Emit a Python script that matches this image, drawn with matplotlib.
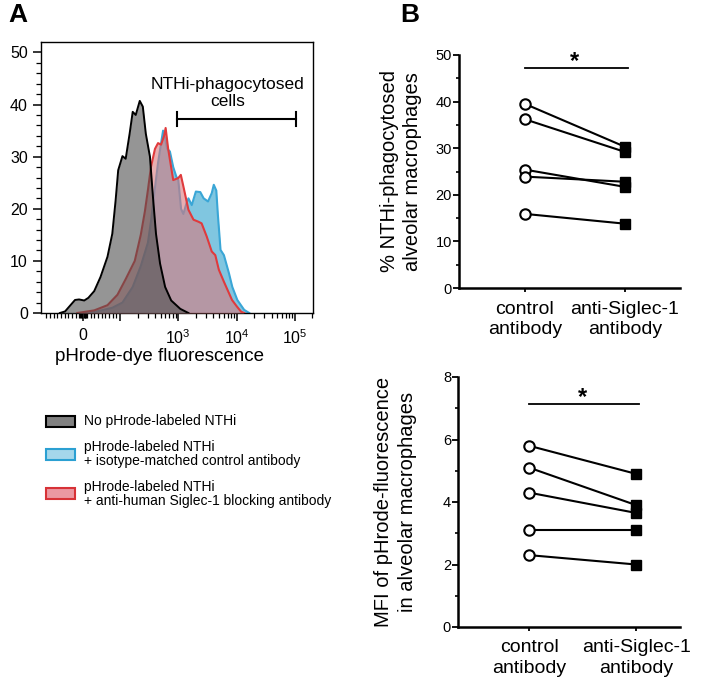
import numpy as np
import matplotlib
matplotlib.use('Agg')
import matplotlib.pyplot as plt
from matplotlib.patches import Rectangle

plt.rcParams['font.family'] = ['Liberation Sans', 'DejaVu Sans']
plt.rcParams['mathtext.fontset'] = 'custom'
plt.rcParams['mathtext.rm'] = 'Liberation Sans'

# --- panel A: flow histograms (fluorescence value, % of max) ---
gray_x = [-63, -49, -38, -22, -11, 3, 14, 30, 47, 66, 79, 88, 95, 110, 125, 146, 165, 186,
          218, 246, 277, 326, 367, 414, 486, 594, 755, 1080, 1490]
gray_y = [0, 0.3, 1.2, 2.5, 2.6, 2.4, 2.9, 4.2, 6.9, 10.8, 15.2, 21.6, 27.4, 30.1, 29.6, 34.4,
          38.6, 38.0, 40.7, 39.6, 34.4, 30.0, 22.3, 15.2, 9.5, 5.0, 2.4, 0.8, 0]

blue_x = [3, 38, 79, 110, 165, 227, 301, 339, 393, 449, 513, 548, 594, 644, 717, 818, 923,
          1000, 1114, 1222, 1377, 1493, 1703, 2000, 2384, 2722, 3236, 3750, 4064, 4490, 4766,
          5310, 6063, 7413, 8450, 10300, 13500, 16500]
blue_y = [0, 0.3, 1, 2, 5, 9, 13.5, 17.5, 23.6, 28.8, 33, 35, 33.5, 31.5, 31, 28, 26.2,
          25.5, 20, 19, 21, 22, 20.7, 23.3, 23.2, 22, 21.4, 23, 24.6, 23.5, 19,
          12.1, 11.1, 7.6, 5, 2.5, 0.6, 0]

red_x = [-16, 30, 66, 93, 125, 179, 227, 267, 301, 339, 398, 449, 506, 571, 606, 670, 818,
         1000, 1105, 1222, 1493, 1823, 2228, 2512, 3069, 3750, 4315, 4963, 6063, 7413, 8350,
         10200, 11970, 13500]
red_y = [0, 0.5, 1.5, 3.5, 6.5, 10, 15, 19.5, 23.6, 28, 31.5, 32.6, 32.3, 34, 35.5, 31.5, 25.5,
         25.9, 26.5, 24.3, 19.8, 17.9, 17.5, 17.2, 14.7, 11.8, 11.1, 8.3, 6.0, 3.8, 2.5,
         1.2, 0.25, 0]

gate = [960, 105000]
gate_y = 37.2

# --- panel B: paired values ---
groups = ['control\nantibody', 'anti-Siglec-1\nantibody']
pct_control = [39.5, 36.2, 25.4, 23.9, 15.9]
pct_anti = [30.3, 29.2, 21.7, 22.8, 13.8]
mfi_control = [5.8, 5.1, 4.3, 3.1, 2.3]
mfi_anti = [4.9, 3.9, 3.65, 3.1, 2.0]

fig = plt.figure(figsize=(7.09, 6.84), dpi=100)

# ---------------- A ----------------
ax = fig.add_axes([41/709, 1-313/684, 272/709, 271/684])
ax.set_xscale('symlog', linthresh=100, linscale=0.57)

ax.fill_between(blue_x, blue_y, color='#80c6e0', lw=0, zorder=1)
ax.plot(blue_x, blue_y, color='#3aa6d6', lw=1.5, zorder=2)
ax.fill_between(red_x, red_y, color=(217/255, 120/255, 125/255), alpha=0.6, lw=0, zorder=3)
ax.plot(red_x, red_y, color='#e03a3c', lw=1.5, zorder=4)
ax.fill_between(gray_x, gray_y, color=(78/255, 78/255, 78/255), alpha=0.6, lw=0, zorder=5)
ax.plot(gray_x, gray_y, color='black', lw=1.4, zorder=6)

ax.set_xlim(-123, 2.05e5)
ax.set_ylim(0, 52)
ax.set_xticks([0, 100, 1e3, 1e4, 1e5])
ax.set_xticklabels(['0', '', r'$10^{\mathregular{3}}$', r'$10^{\mathregular{4}}$',
                    r'$10^{\mathregular{5}}$'])
minor = [-100, -90, -80, -70, -60, -50, -40, -30, -20, -10, -8, -6, -4, -2,
         2, 4, 6, 8, 10, 20, 30, 40, 50, 60, 70, 80, 90]
for k in [2, 3, 4]:
    minor += [m * 10**k for m in range(2, 10)]
minor += [2e5]
ax.set_xticks(minor, minor=True)
ax.set_yticks(range(0, 51, 10))
ax.set_yticks(range(0, 52, 2), minor=True)
ax.tick_params(axis='both', which='major', length=6, width=1.1, labelsize=11.5, direction='out')
ax.tick_params(axis='both', which='minor', length=3.5, width=0.9, direction='out')
ax.tick_params(axis='x', pad=5)
for s in ax.spines.values():
    s.set_linewidth(1.0)
ax.set_xlabel('pHrode-dye fluorescence', fontsize=13.5)
ax.xaxis.set_label_coords(0.437, -0.13)

ax.plot(gate, [gate_y, gate_y], color='black', lw=1.5, zorder=7)
for gx in gate:
    ax.plot([gx, gx], [gate_y - 1.3, gate_y + 1.3], color='black', lw=1.5, zorder=7)
ax.text(7100, 42.2, 'NTHi-phagocytosed\ncells', ha='center', va='center',
        fontsize=12.5, linespacing=1.1)

# legend
leg_items = [('#808080', 'black', 'No pHrode-labeled NTHi', 421),
             ('#a5d7eb', '#2ba0d2', 'pHrode-labeled NTHi\n+ isotype-matched control antibody', 454.5),
             ('#eb98a2', '#d73237', 'pHrode-labeled NTHi\n+ anti-human Siglec-1 blocking antibody', 493.5)]
for fc, ec, lab, yc in leg_items:
    fig.add_artist(Rectangle((46/709, 1-(yc+5.5)/684), 29/709, 11/684, facecolor=fc,
                             edgecolor=ec, lw=1.5, transform=fig.transFigure))
    fig.text(84/709, 1-yc/684, lab, fontsize=10, va='center', ha='left', linespacing=1.0)


def paired(ax, ctrl, anti, ylim, major, minor_step, bar_y, star_y, xlim):
    for c, a in zip(ctrl, anti):
        ax.plot([0, 1], [c, a], color='black', lw=1.5, zorder=2)
    ax.plot([0]*len(ctrl), ctrl, 'o', ms=7.5, mfc='white', mec='black', mew=1.5, zorder=3, clip_on=False)
    ax.plot([1]*len(anti), anti, 's', ms=7, mfc='black', mec='black', zorder=3, clip_on=False)
    ax.set_xlim(*xlim)
    ax.set_ylim(*ylim)
    ax.set_yticks(major)
    ax.set_yticks(np.arange(ylim[0], ylim[1] + 1e-9, minor_step), minor=True)
    ax.set_xticks([0, 1])
    ax.set_xticklabels(groups, fontsize=14, linespacing=1.25)
    for s in ['top', 'right']:
        ax.spines[s].set_visible(False)
    for s in ['left', 'bottom']:
        ax.spines[s].set_linewidth(1.8)
    ax.tick_params(axis='y', which='major', length=4, width=1.3, labelsize=10.5, pad=1)
    ax.tick_params(axis='y', which='minor', length=2.5, width=1.2)
    ax.tick_params(axis='x', length=3, width=1.3, pad=6)
    ax.plot([0, 1.03], [bar_y, bar_y], color='black', lw=1.3, clip_on=False)
    ax.text(0.5, star_y, '*', ha='center', va='center', fontsize=17, fontweight='bold')


# ---------------- B top ----------------
ax1 = fig.add_axes([459/709, 1-288/684, 221/709, 233/684])
paired(ax1, pct_control, pct_anti, (0, 50), range(0, 51, 10), 5, 47.2, 48.6, (-0.66, 1.55))
ax1.set_ylabel('% NTHi-phagocytosed\nalveolar macrophages', fontsize=14.5, linespacing=1.3)
ax1.yaxis.set_label_coords(-0.167, 0.5)

# ---------------- B bottom ----------------
ax2 = fig.add_axes([458/709, 1-627/684, 222/709, 250/684])
paired(ax2, mfi_control, mfi_anti, (0, 8), range(0, 9, 2), 1, 7.14, 7.35, (-0.664, 1.41))
ax2.set_ylabel('MFI of pHrode-fluorescence\nin alveolar macrophages', fontsize=14.5, linespacing=1.3)
ax2.yaxis.set_label_coords(-0.185, 0.5)

fig.text(8/709, 1-3/684, 'A', fontsize=19, fontweight='bold', va='top', ha='left')
fig.text(400/709, 1-3/684, 'B', fontsize=19, fontweight='bold', va='top', ha='left')

fig.savefig('out.png', dpi=100)
